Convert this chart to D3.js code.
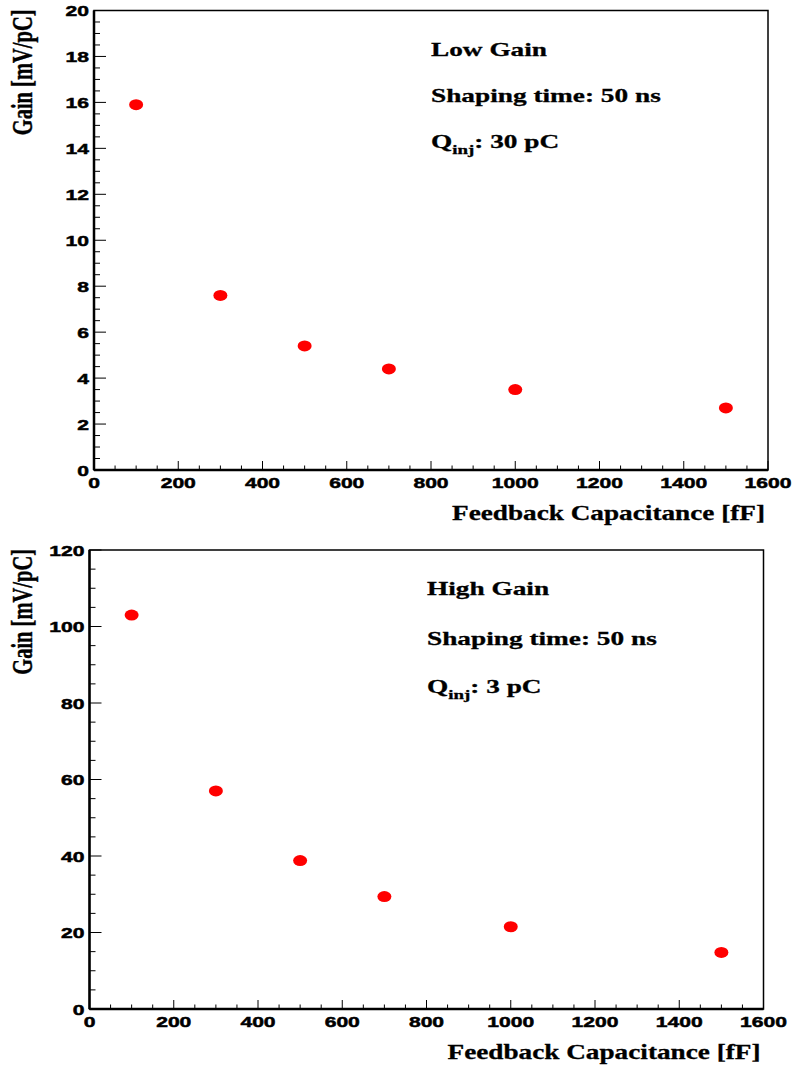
<!DOCTYPE html>
<html><head><meta charset="utf-8">
<script src="https://cdn.jsdelivr.net/npm/d3@7"></script>
<style>body{margin:0;background:#fff}svg{display:block}</style>
</head><body>
<svg id="c" width="795" height="1066"></svg>
<script>
// ---- data ----
const capacitance = [100, 300, 500, 700, 1000, 1500];      // fF
const lowGain = [15.9, 7.6, 5.4, 4.4, 3.5, 2.7];             // mV/pC, Q=30 pC
const highGain = [103, 57, 38.8, 29.4, 21.5, 14.8];          // mV/pC, Q=3 pC
const xTicks = [0, 200, 400, 600, 800, 1000, 1200, 1400, 1600];
const lowYTicks = [0, 2, 4, 6, 8, 10, 12, 14, 16, 18, 20];
const highYTicks = [0, 20, 40, 60, 80, 100, 120];
const lowLabels = ["Low Gain", "Shaping time: 50 ns", "30 pC"];
const highLabels = ["High Gain", "Shaping time: 50 ns", "3 pC"];
const xTitle = "Feedback Capacitance [fF]";
const yTitle = "Gain [mV/pC]";

const svg = d3.select("#c");
const SX = 1.4; // horizontal stretch of the original rendering

function stretchedText(g, x, y, txt, opts) {
  const t = g.append("text")
    .attr("transform", `translate(${x},${y}) scale(${opts.sx || SX},1)`)
    .attr("text-anchor", opts.anchor || "start")
    .attr("font-family", opts.family)
    .attr("font-weight", "bold")
    .attr("font-size", opts.size)
    .attr("fill", "#000")
    .attr("stroke", "#000")
    .attr("stroke-width", opts.sw || 0.3);
  t.text(txt);
  return t;
}

function panel(p) {
  const g = svg.append("g");
  const x = d3.scaleLinear().domain([0, 1600]).range([p.x0, p.x1]);
  const y = d3.scaleLinear().domain([0, p.ymax]).range([p.y1, p.y0]);

  // minor ticks
  const xMinor = d3.range(0, 1600 + 1, 50);
  g.selectAll(".xm").data(xMinor).enter().append("line")
    .attr("x1", d => x(d)).attr("x2", d => x(d))
    .attr("y1", p.y1).attr("y2", d => p.y1 - (d % 200 === 0 ? 9 : 4.5))
    .attr("stroke", "#000").attr("stroke-width", 1);
  const yMinor = d3.range(0, p.ymax + 1e-9, p.yminor);
  g.selectAll(".ym").data(yMinor).enter().append("line")
    .attr("y1", d => y(d)).attr("y2", d => y(d))
    .attr("x1", p.x0).attr("x2", d => p.x0 + (Math.abs(d / p.ymajor - Math.round(d / p.ymajor)) < 1e-6 ? 12 : 6))
    .attr("stroke", "#000").attr("stroke-width", 1);

  // frame
  g.append("rect").attr("x", p.x0).attr("y", p.y0)
    .attr("width", p.x1 - p.x0).attr("height", p.y1 - p.y0)
    .attr("fill", "none").attr("stroke", "#000").attr("stroke-width", 1.5);
  g.append("line").attr("x1", p.x0).attr("x2", p.x1).attr("y1", p.y1).attr("y2", p.y1)
    .attr("stroke", "#000").attr("stroke-width", 2.5);
  g.append("line").attr("x1", p.x0).attr("x2", p.x0).attr("y1", p.y0).attr("y2", p.y1)
    .attr("stroke", "#000").attr("stroke-width", 2.5);

  // tick labels
  xTicks.forEach(v => stretchedText(g, x(v), p.y1 + 18, String(v),
    {anchor: "middle", family: "'Liberation Sans', Arial, sans-serif", size: 15.5, sx: 1.36, sw: 0.5}));
  p.yTicks.forEach(v => stretchedText(g, p.x0 - 5, y(v) + 5.5, String(v),
    {anchor: "end", family: "'Liberation Sans', Arial, sans-serif", size: 15.5, sx: 1.36, sw: 0.5}));

  // axis titles
  g.append("text")
    .attr("x", p.x1 - 3).attr("y", p.y1 + 50)
    .attr("text-anchor", "end")
    .attr("font-family", "'Liberation Serif', 'Times New Roman', serif")
    .attr("font-weight", "bold").attr("font-size", 21)
    .attr("stroke", "#000").attr("stroke-width", 0.3)
    .attr("textLength", 313).attr("lengthAdjust", "spacingAndGlyphs")
    .text(xTitle);
  g.append("text")
    .attr("transform", `translate(32,${p.y0 - 1}) scale(${SX},1) rotate(-90)`)
    .attr("text-anchor", "end")
    .attr("font-family", "'Liberation Serif', 'Times New Roman', serif")
    .attr("font-weight", "bold").attr("font-size", 20.5)
    .attr("stroke", "#000").attr("stroke-width", 0.3)
    .text(yTitle);

  // points
  g.selectAll(".pt").data(capacitance).enter().append("ellipse")
    .attr("cx", d => x(d)).attr("cy", (d, i) => y(p.values[i]))
    .attr("rx", 7).attr("ry", 5.5).attr("fill", "#ff0000");

  // annotations
  const fam = "'Liberation Serif', 'Times New Roman', serif";
  stretchedText(g, p.lx, p.ly[0], p.labels[0], {family: fam, size: 19.5});
  stretchedText(g, p.lx, p.ly[1], p.labels[1], {family: fam, size: 19.5});
  const q = stretchedText(g, p.lx, p.ly[2], "", {family: fam, size: 19.5});
  q.append("tspan").text("Q");
  q.append("tspan").attr("font-size", 13.5).attr("dy", 6).text("inj");
  q.append("tspan").attr("dy", -6).text(": " + p.labels[2]);
}

panel({x0: 94, x1: 768, y0: 10.5, y1: 470, ymax: 20, ymajor: 2, yminor: 0.5,
  yTicks: lowYTicks, values: lowGain, labels: lowLabels, lx: 431, ly: [56, 102, 148]});
panel({x0: 89.5, x1: 763.5, y0: 550, y1: 1009, ymax: 120, ymajor: 20, yminor: 5,
  yTicks: highYTicks, values: highGain, labels: highLabels, lx: 427, ly: [595, 645, 693]});
</script>
</body></html>
